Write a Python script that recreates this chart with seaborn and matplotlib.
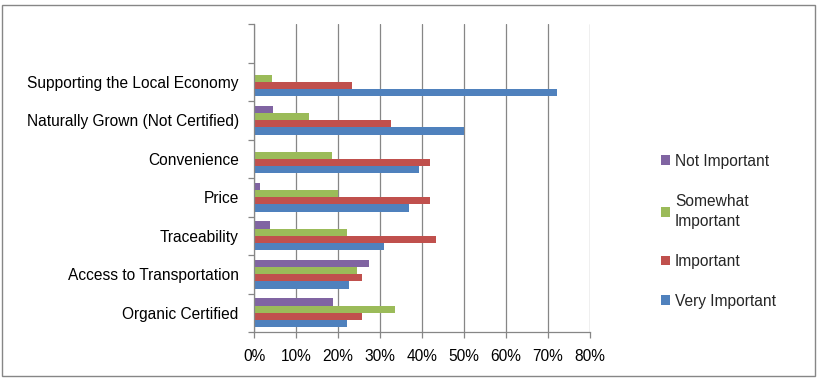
import matplotlib
matplotlib.use("Agg")
import matplotlib.pyplot as plt
import seaborn as sns
import pandas as pd
import numpy as np
from matplotlib.patches import Rectangle, Patch
from matplotlib.ticker import FixedLocator, FuncFormatter

categories = ["", "Supporting the Local Economy", "Naturally Grown (Not Certified)",
              "Convenience", "Price", "Traceability", "Access to Transportation",
              "Organic Certified"]
series = ["Not Important", "Somewhat Important", "Important", "Very Important"]
legend_labels = ["Not Important", "Somewhat\nImportant", "Important", "Very Important"]

not_important = [0.3, 4.5, 0.3, 1.4, 3.8, 27.3, 18.9]
somewhat_important = [4.2, 13.2, 18.6, 20.0, 22.2, 24.6, 33.5]
important = [23.4, 32.5, 42.0, 41.9, 43.3, 25.6, 25.6]
very_important = [72.2, 50.0, 39.2, 36.8, 30.9, 22.7, 22.2]

colors = ["#8064A2", "#9BBB59", "#C0504D", "#4F81BD"]
xticks = [0, 10, 20, 30, 40, 50, 60, 70, 80]

rows = []
for s, vals in zip(series, [not_important, somewhat_important, important, very_important]):
    for c, v in zip(categories[1:], vals):
        rows.append({"category": c, "series": s, "value": v})
df = pd.DataFrame(rows)

sns.set_style("white")
plt.rcParams["font.family"] = ["Liberation Sans", "DejaVu Sans"]
plt.rcParams["font.size"] = 10

fig = plt.figure(figsize=(8.21, 3.82), dpi=100)
W, H = 821, 382
ax = fig.add_axes([254 / W, 1 - 332 / H, (590 - 254) / W, (332 - 24) / H])

sns.barplot(data=df, y="category", x="value", hue="series", order=categories,
            hue_order=series, palette=colors, orient="h", width=0.75,
            saturation=1, errorbar=None, ax=ax, legend=False, linewidth=0)

ax.set_xlim(0, 80)
ax.set_ylim(len(categories) - 0.5, -0.5)
ax.set_xlabel("")
ax.set_ylabel("")
ax.set_xticks(xticks)
ax.xaxis.set_major_formatter(FuncFormatter(lambda v, p: f"{int(v)}%"))
ax.grid(axis="x", color="#868686", linewidth=0.9)
ax.grid(axis="y", visible=False)
ax.set_axisbelow(True)

for sp in ["top", "right"]:
    ax.spines[sp].set_visible(False)
for sp in ["left", "bottom"]:
    ax.spines[sp].set_color("#868686")
    ax.spines[sp].set_linewidth(0.9)

ax.yaxis.set_minor_locator(FixedLocator(np.arange(-0.5, len(categories), 1.0)))
ax.tick_params(axis="y", which="major", length=0, pad=11, labelsize=11.2, colors="black")
ax.tick_params(axis="y", which="minor", length=4, width=0.9, color="#868686", left=True)
ax.tick_params(axis="x", which="major", length=4, width=0.9, color="#868686",
               bottom=True, pad=8, labelsize=11.2, labelcolor="black")

handles = [Patch(facecolor=c, edgecolor="none") for c in colors]
leg = fig.legend(handles, legend_labels, loc="upper left",
                 bbox_to_anchor=(653 / W, 1 - 146 / H), frameon=False,
                 handlelength=0.6, handleheight=0.6, handletextpad=0.3,
                 labelspacing=1.6, borderpad=0, fontsize=11.2)
for t in leg.get_texts():
    t.set_linespacing(1.45)

fig.patches.append(Rectangle((2 / W, 1 - 376 / H), (815 - 2) / W, (376 - 5) / H,
                             transform=fig.transFigure, fill=False,
                             edgecolor="#868686", linewidth=1))

fig.savefig("out.png", dpi=100, facecolor="white")
